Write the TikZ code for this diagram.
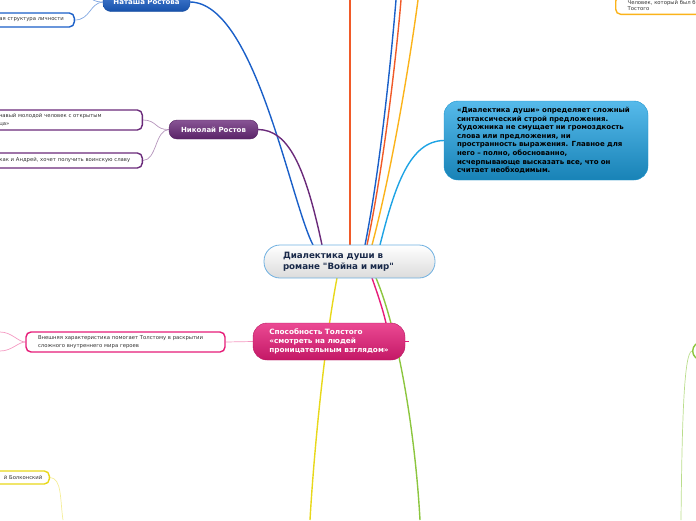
\documentclass[tikz,border=0pt]{standalone}
\usepackage{fontspec}
\setmainfont{DejaVu Sans}
\usetikzlibrary{positioning,backgrounds}

\definecolor{rootline}{HTML}{6FB0E0}
\definecolor{rootink}{HTML}{1A2A4A}
\definecolor{skyblue}{HTML}{1EA3E4}
\definecolor{royal}{HTML}{1A5FC8}
\definecolor{plum}{HTML}{6A2A7A}
\definecolor{rose}{HTML}{E61C78}
\definecolor{tomato}{HTML}{F05A28}
\definecolor{amber}{HTML}{FBB31A}
\definecolor{lemon}{HTML}{E8D81A}
\definecolor{lime}{HTML}{8CC63F}

\begin{document}
\begin{tikzpicture}[
    x=1pt, y=-1pt,
    font=\bfseries,
    rootbox/.style={rectangle, rounded corners=16pt, draw=rootline, thick,
        top color=white, bottom color=black!14, text=rootink,
        minimum width=171pt, minimum height=33pt, text width=133pt,
        align=left, inner sep=0pt, font=\fontsize{8.7}{11}\selectfont\bfseries},
    topic/.style={rectangle, rounded corners=8pt, draw=#1!80!black, thin,
        top color=#1!80!white, bottom color=#1!85!black, text=white,
        minimum height=19pt, inner sep=0pt, align=center,
        font=\fontsize{7}{9}\selectfont\bfseries},
    leaf/.style={rectangle, rounded corners=5pt, draw=#1, line width=1.4pt,
        fill=white, text=black!80, inner xsep=9pt, inner ysep=2pt,
        align=left, font=\fontsize{5.3}{8}\selectfont},
    trunk/.style={draw=#1, line width=1.4pt},
    twig/.style={draw=#1, line width=0.7pt},
]
\useasboundingbox (0,0) rectangle (696,520);
\clip (0,0) rectangle (696,520);

% centre
\node[rootbox] (root) at (349.5,261.5)
    {Диалектика души в\\романе \textquotedbl Война и мир\textquotedbl};

% right: blue text box
\node[rectangle, rounded corners=14pt, draw=skyblue!90!black, thin,
    top color=skyblue!75!white, bottom color=skyblue!80!black, text=black,
    minimum width=204pt, minimum height=79pt, text width=178pt, align=left,
    inner sep=0pt, font=\fontsize{7}{8.6}\selectfont\bfseries]
    (soul) at (546,140.5)
    {«Диалектика души» определяет сложный\\синтаксический строй предложения.\\
     Художника не смущает ни громоздкость\\слова или предложения, ни\\
     пространность выражения. Главное для\\него -- полно, обоснованно,\\
     исчерпывающе высказать все, что он\\считает необходимым.};

% pink topic and its leaf
\node[topic=rose, rounded corners=14pt, minimum width=152pt, minimum height=37pt,
    align=left, font=\fontsize{7.3}{9}\selectfont\bfseries]
    (gaze) at (329,341.5)
    {Способность Толстого\\«смотреть на людей\\проницательным взглядом»};
\node[leaf=rose, minimum width=199pt, minimum height=20pt, text width=175pt,
    inner xsep=12pt] (gazeA) at (125.5,342)
    {Внешняя характеристика помогает Толстому в раскрытии\\сложного внутреннего мира героев};

% purple topic and its leaves
\node[topic=plum, minimum width=89pt] (nikolai) at (213.5,129.5) {Николай Ростов};
\node[leaf=plum, anchor=east, minimum height=20pt, text width=131pt,
    inner xsep=12pt] (nikA) at (143,120)
    {чавый молодой человек с открытым\\ца»};
\node[leaf=plum, anchor=east, minimum height=15pt, text width=134pt]
    (nikB) at (143,160.5) {как и Андрей, хочет получить воинскую славу};

% blue topic and its leaf
\node[topic=royal, minimum width=87pt] (natasha) at (146.5,2) {Наташа Ростова};
\node[leaf=royal, anchor=east, minimum height=14pt, text width=66pt]
    (natA) at (75,20) {ая структура личности};

% yellow leaf, orange leaf, green box (cut by the edge)
\node[leaf=lemon, anchor=east, minimum height=13pt, text width=46pt,
    inner xsep=7pt, align=right] (andrei) at (50,477.5) {й Болконский};
\node[leaf=amber, anchor=south west, text width=90pt,
    inner xsep=12pt, inner ysep=4pt, font=\fontsize{5.3}{6}\selectfont]
    (person) at (615,15) {Человек, который был б\\Тостого};
\node[leaf=lime, anchor=west, minimum width=30pt, minimum height=18pt,
    rounded corners=9pt] (greenbox) at (692,351) {};

% free ends at the edge
\coordinate (upA) at (350,0);
\coordinate (upB) at (396,0);
\coordinate (upC) at (401,0);
\coordinate (upD) at (418,0);
\coordinate (downA) at (310,520);
\coordinate (downB) at (420,520);
\coordinate (downC) at (681,520);
\coordinate (downD) at (63,520);
\coordinate (leftA) at (0,332);
\coordinate (leftB) at (0,351);
\coordinate (natUp) at (93,0);
\coordinate (stub) at (409,341.5);

\begin{scope}[on background layer]
% trunks from the centre
\draw[trunk=royal] (313,245) .. controls (290,200) and (255,3) .. (natasha.east);
\draw[trunk=plum] (322,245) .. controls (305,165) and (288,130) .. (nikolai.east);
\draw[trunk=tomato] (root.north -| upA) -- (upA);
\draw[trunk=royal] (365,245) .. controls (380,170) and (391,60) .. (upB);
\draw[trunk=tomato] (367,245) .. controls (383,170) and (396,60) .. (upC);
\draw[trunk=amber] (372,245) .. controls (392,170) and (410,60) .. (upD);
\draw[trunk=skyblue] (380,245) .. controls (395,185) and (410,141) .. (soul.west);
\draw[trunk=lemon] (337,278) .. controls (325,340) and (314,450) .. (downA);
\draw[trunk=rose] (372,278) .. controls (378,295) and (383,310) .. (386,323);
\draw[trunk=lime] (376,278) .. controls (398,330) and (415,430) .. (downB);
\draw[trunk=rose] (gaze.east) -- (stub);

% twigs to the leaves
\draw[twig=rose!45] (gaze.west) -- (gazeA.east);
\draw[twig=rose!45] (gazeA.west) .. controls (18,342) and (12,332) .. (leftA);
\draw[twig=rose!45] (gazeA.west) .. controls (18,342) and (12,351) .. (leftB);
\draw[twig=plum!50] (nikolai.west) .. controls (155,130) and (157,120) .. (nikA.east);
\draw[twig=plum!50] (nikolai.west) .. controls (155,130) and (157,160) .. (nikB.east);
\draw[twig=royal!55] (natasha.west) .. controls (90,3) and (90,20) .. (natA.east);
\draw[twig=royal!55] (natasha.west) .. controls (98,2) and (95,1) .. (natUp);
\draw[twig=lemon!45] (andrei.east) .. controls (62,478) and (60,500) .. (downD);
\draw[twig=lime!60] (greenbox.west) .. controls (684,352) and (682,420) .. (downC);
\end{scope}

\end{tikzpicture}
\end{document}
